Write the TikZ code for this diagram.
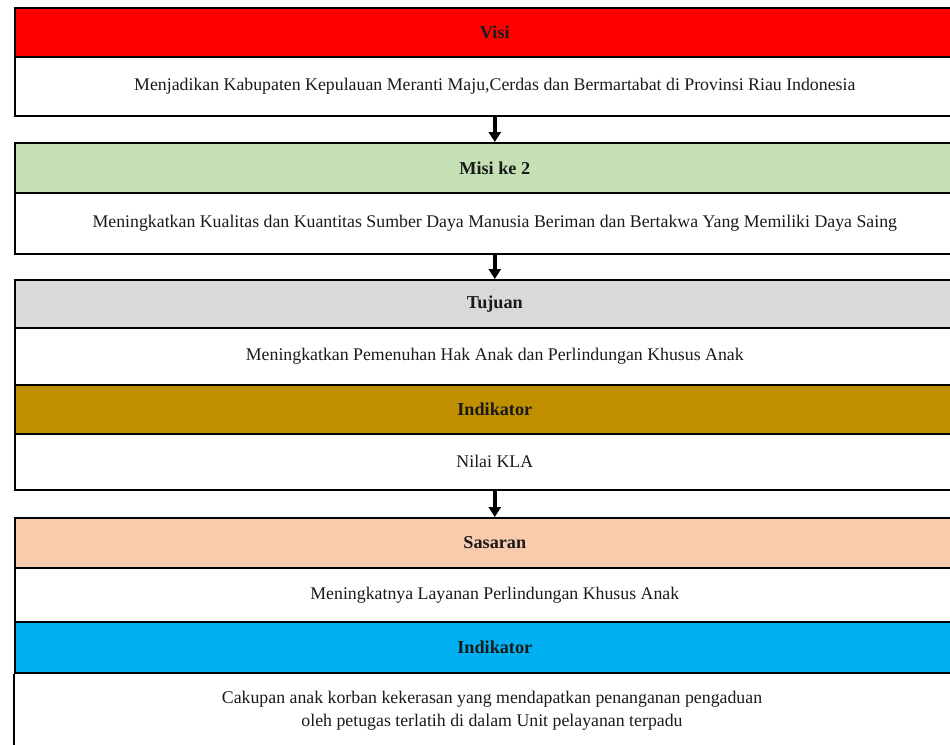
\documentclass[tikz,border=0pt]{standalone}
\usepackage{fontspec}
\setmainfont{Liberation Serif}
\usetikzlibrary{arrows.meta}
\definecolor{visired}{HTML}{FF0000}
\definecolor{misigreen}{HTML}{C5E0B4}
\definecolor{tujuangrey}{HTML}{D9D9D9}
\definecolor{indgold}{HTML}{BF8F00}
\definecolor{saspeach}{HTML}{F8CBAD}
\definecolor{indblue}{HTML}{00B0F0}
\definecolor{txt}{HTML}{1A1A1A}
\begin{document}
\begin{tikzpicture}[x=1pt,y=-1pt,
 cell/.style={draw=black,line width=1.6pt,rectangle,anchor=north west,minimum width=960pt,inner sep=0pt,text=txt,font=\fontsize{17.8}{23}\selectfont,align=center},
 head/.style={cell,minimum height=49pt,font=\fontsize{18.2}{23}\selectfont\bfseries},
 plaintext/.style={rectangle,inner sep=0pt,text=txt,font=\fontsize{17.8}{23}\selectfont,align=center},
 arr/.style={-{Triangle[length=10pt,width=12pt]},line width=3.4pt,draw=black}
]
\useasboundingbox (0,0) rectangle (950,744);
\begin{scope}
\clip (0,0) rectangle (950,744);
\node[head,fill=visired] (visi) at (14,7) {Visi};
\node[cell,minimum height=59pt] (visibody) at (14,56) {Menjadikan Kabupaten Kepulauan Meranti Maju,Cerdas dan Bermartabat di Provinsi Riau Indonesia};
\node[head,fill=misigreen,minimum height=50pt] (misi) at (14,142) {Misi ke 2};
\node[cell,minimum height=61pt] (misibody) at (14,192) {Meningkatkan Kualitas dan Kuantitas Sumber Daya Manusia Beriman dan Bertakwa Yang Memiliki Daya Saing};
\node[head,fill=tujuangrey,minimum height=48pt] (tujuan) at (14,279) {Tujuan};
\node[cell,minimum height=57pt] (tujuanbody) at (14,327) {Meningkatkan Pemenuhan Hak Anak dan Perlindungan Khusus Anak};
\node[head,fill=indgold] (ind1) at (14,384) {Indikator};
\node[cell,minimum height=56pt] (ind1body) at (14,433) {Nilai KLA};
\node[head,fill=saspeach,minimum height=50pt] (sasaran) at (14,517) {Sasaran};
\node[cell,minimum height=54pt] (sasaranbody) at (14,567) {Meningkatnya Layanan Perlindungan Khusus Anak};
\node[head,fill=indblue,minimum height=51pt] (ind2) at (14,621) {Indikator};
\node[plaintext] (ind2text) at (492,711) {Cakupan anak korban kekerasan yang mendapatkan penanganan pengaduan\\oleh petugas terlatih di dalam Unit pelayanan terpadu};
\draw[line width=1.6pt] (ind2.south west) -- ++(0,80) (ind2.south east) -- ++(0,80);
\end{scope}
\draw[arr] (visibody.south) -- (misi.north);
\draw[arr] (misibody.south) -- (tujuan.north);
\draw[arr] (ind1body.south) -- (sasaran.north);
\end{tikzpicture}
\end{document}
